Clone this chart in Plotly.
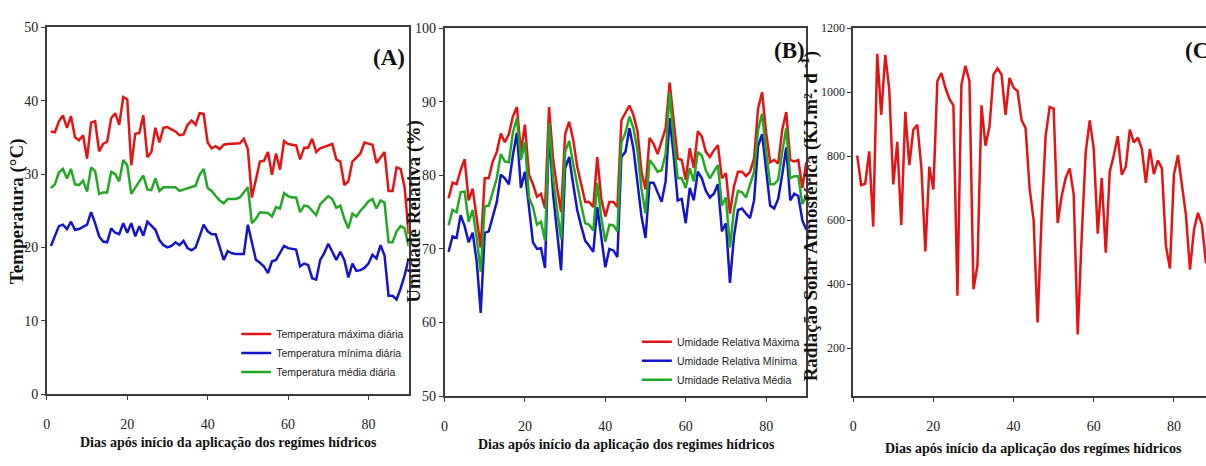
import plotly.graph_objects as go

# ---------------- data ----------------
days = list(range(1, 91))

temp_max = [35.8, 35.7, 37.2, 38.0, 36.3, 37.9, 35.0, 34.6, 35.3, 32.1,
            37.0, 37.2, 33.1, 34.1, 34.4, 37.6, 38.3, 36.7, 40.5, 40.2,
            31.2, 35.5, 35.6, 38.0, 32.3, 33.0, 36.3, 34.3, 36.3, 36.4,
            36.1, 35.8, 35.3, 35.4, 36.7, 37.3, 36.7, 38.3, 38.2, 34.3,
            33.5, 33.8, 33.4, 34.0, 34.1, 34.1, 34.1, 34.2, 34.8, 33.4,
            26.8, 29.5, 31.7, 31.8, 33.0, 29.9, 32.8, 30.6, 34.5, 34.1,
            34.0, 33.9, 32.0, 33.6, 33.6, 34.8, 33.0, 33.5, 33.7, 33.9,
            34.1, 32.0, 31.7, 28.5, 29.0, 31.7, 32.3, 32.8, 34.3, 34.2,
            34.0, 31.5, 32.2, 33.0, 27.7, 27.7, 30.9, 30.7, 28.2, 21.8]

temp_min = [20.2, 21.5, 22.9, 23.1, 22.5, 23.5, 22.4, 22.5, 22.8, 23.1,
            24.8, 23.3, 21.5, 20.8, 20.7, 22.6, 22.0, 21.8, 23.3, 22.0,
            23.3, 21.5, 22.9, 21.6, 23.5, 22.9, 22.4, 21.0, 20.3, 20.0,
            20.2, 20.7, 20.3, 20.9, 19.9, 19.6, 20.0, 21.5, 23.1, 22.2,
            21.8, 21.8, 20.0, 18.3, 19.5, 19.2, 19.1, 19.1, 19.1, 23.1,
            20.7, 18.3, 17.9, 17.4, 16.5, 18.1, 18.3, 19.2, 20.2, 19.9,
            19.8, 19.7, 17.4, 17.8, 17.6, 15.8, 15.6, 18.3, 19.2, 20.5,
            19.4, 18.3, 19.4, 18.3, 15.9, 17.8, 16.8, 16.9, 17.2, 17.8,
            19.0, 18.5, 20.3, 18.9, 13.4, 13.4, 12.9, 14.4, 16.2, 18.4]

temp_mean = [28.1, 28.6, 30.2, 30.7, 29.4, 30.7, 28.6, 28.5, 29.1, 27.6,
             30.9, 30.4, 27.3, 27.5, 27.5, 30.3, 30.0, 29.0, 31.9, 31.2,
             27.3, 28.2, 29.0, 29.8, 27.9, 27.8, 29.4, 27.7, 28.2, 28.2,
             28.2, 28.2, 27.7, 27.9, 28.1, 28.3, 28.4, 29.9, 30.7, 28.1,
             27.7, 27.0, 26.4, 26.0, 26.6, 26.6, 26.6, 26.8, 27.5, 28.2,
             23.3, 23.9, 24.8, 24.7, 24.7, 24.2, 25.5, 25.3, 27.4, 27.0,
             26.8, 26.8, 24.8, 25.7, 25.6, 25.0, 24.4, 25.9, 26.5, 27.0,
             26.6, 25.4, 25.7, 23.9, 22.6, 24.6, 24.2, 25.0, 25.6, 26.3,
             26.6, 25.3, 26.4, 26.1, 20.7, 20.7, 22.2, 22.9, 22.6, 20.2]

rh_max = [76.9, 79.0, 78.8, 80.7, 82.2, 76.6, 78.2, 74.2, 70.2, 79.6,
          79.6, 81.9, 83.2, 85.7, 84.5, 85.6, 88.0, 89.3, 83.2, 86.9,
          80.1, 78.8, 77.1, 77.5, 75.5, 89.3, 82.3, 78.3, 75.0, 85.6,
          87.3, 84.9, 81.2, 78.8, 76.4, 76.4, 75.7, 82.5, 76.8, 74.4,
          76.4, 76.4, 75.7, 87.5, 88.6, 89.5, 88.2, 86.0, 80.5, 78.1,
          85.1, 84.3, 82.9, 84.7, 86.4, 92.6, 87.5, 82.3, 82.1, 79.4,
          83.7, 81.0, 86.0, 85.3, 83.2, 82.5, 83.4, 84.1, 79.6, 80.3,
          74.8, 78.5, 80.5, 80.5, 79.9, 80.5, 82.3, 89.1, 91.3, 85.8,
          81.8, 82.1, 81.6, 86.2, 88.6, 82.1, 81.9, 82.1, 78.3, 81.8]

rh_min = [69.6, 71.7, 71.5, 74.6, 73.1, 70.9, 72.2, 68.3, 61.3, 72.2,
          72.4, 74.4, 76.4, 80.1, 79.6, 78.8, 82.7, 85.8, 78.3, 80.5,
          75.3, 70.9, 70.0, 70.1, 67.4, 86.4, 77.5, 72.2, 67.1, 81.0,
          82.5, 78.8, 75.3, 73.1, 71.1, 70.4, 69.6, 75.7, 71.7, 67.5,
          70.0, 69.8, 68.9, 82.5, 83.2, 86.4, 83.6, 79.2, 74.4, 71.5,
          79.0, 79.0, 77.7, 76.4, 79.2, 87.8, 82.7, 76.6, 76.8, 73.5,
          78.3, 76.6, 80.5, 79.6, 77.9, 77.0, 77.5, 78.8, 72.4, 73.5,
          65.4, 71.7, 75.3, 75.5, 74.8, 74.2, 76.6, 84.0, 85.6, 80.5,
          75.9, 75.5, 76.8, 80.1, 83.8, 76.6, 77.5, 77.2, 73.9, 72.6]

rh_mean = [73.2, 75.3, 75.0, 77.7, 77.8, 73.7, 75.3, 71.5, 66.9, 75.8,
           75.9, 77.9, 79.6, 82.9, 81.9, 81.8, 85.8, 87.8, 82.1, 84.5,
           77.0, 75.7, 73.3, 73.7, 71.1, 87.1, 79.6, 75.3, 71.3, 83.2,
           84.7, 81.6, 78.5, 75.9, 73.5, 73.3, 72.5, 79.0, 74.2, 71.0,
           73.3, 73.2, 72.4, 84.5, 85.8, 88.0, 86.4, 83.4, 78.1, 74.8,
           82.1, 81.4, 80.5, 80.7, 82.9, 91.3, 84.9, 79.6, 79.6, 78.3,
           81.0, 79.2, 83.2, 82.7, 80.7, 79.6, 80.5, 81.4, 75.9, 77.0,
           70.2, 75.3, 77.9, 77.7, 77.0, 78.8, 80.5, 86.2, 88.4, 83.2,
           78.8, 78.8, 79.4, 83.2, 86.4, 79.6, 79.9, 79.9, 76.1, 77.2]

rad_days = list(range(1, 89))
radiation = [802, 710, 714, 815, 580, 1120, 929, 1117, 1009, 712,
             845, 585, 939, 772, 883, 898, 767, 502, 767, 696,
             1035, 1060, 1014, 979, 959, 364, 1024, 1083, 1035, 384,
             459, 959, 833, 893, 1055, 1075, 1055, 929, 1045, 1014,
             1004, 913, 888, 700, 600, 280, 611, 863, 954, 949,
             591, 676, 732, 762, 681, 243, 550, 813, 912, 823,
             558, 732, 498, 752, 803, 863, 742, 767, 883, 843,
             858, 823, 717, 823, 744, 787, 762, 520, 449, 742,
             803, 712, 616, 445, 570, 623, 585, 465]

x_ticks = [0, 20, 40, 60, 80]
temp_ticks = [0, 10, 20, 30, 40, 50]
rh_ticks = [50, 60, 70, 80, 90, 100]
rad_ticks = [200, 400, 600, 800, 1000, 1200]

# ---------------- styling ----------------
W, H = 1206, 466
RED = "#e41414"
BLUE = "#1414c8"
GREEN = "#23a823"
SERIF = "Liberation Serif, Times New Roman, serif"
SANS = "Liberation Sans, Arial, sans-serif"


def fx(px):
    return px / W


def fy(py):
    return 1 - py / H


axis_common = dict(
    showline=True, linecolor="#3c3c3c", linewidth=1.5, mirror=True,
    ticks="outside", ticklen=4, tickcolor="#3c3c3c", tickwidth=1,
    showgrid=False, zeroline=False,
    tickfont=dict(family=SERIF, size=14, color="#222"),
)

fig = go.Figure()

# Panel A: temperature
fig.add_trace(go.Scatter(x=days, y=temp_max, mode="lines", xaxis="x", yaxis="y",
                         line=dict(color=RED, width=2.5),
                         name="Temperatura máxima diária", legend="legend"))
fig.add_trace(go.Scatter(x=days, y=temp_min, mode="lines", xaxis="x", yaxis="y",
                         line=dict(color=BLUE, width=2.5),
                         name="Temperatura mínima diária", legend="legend"))
fig.add_trace(go.Scatter(x=days, y=temp_mean, mode="lines", xaxis="x", yaxis="y",
                         line=dict(color=GREEN, width=2.5),
                         name="Temperatura média diária", legend="legend"))

# Panel B: relative humidity
fig.add_trace(go.Scatter(x=days, y=rh_max, mode="lines", xaxis="x2", yaxis="y2",
                         line=dict(color=RED, width=2.5),
                         name="Umidade Relativa Máxima", legend="legend2"))
fig.add_trace(go.Scatter(x=days, y=rh_min, mode="lines", xaxis="x2", yaxis="y2",
                         line=dict(color=BLUE, width=2.5),
                         name="Umidade Relativa Mínima", legend="legend2"))
fig.add_trace(go.Scatter(x=days, y=rh_mean, mode="lines", xaxis="x2", yaxis="y2",
                         line=dict(color=GREEN, width=2.5),
                         name="Umidade Relativa Média", legend="legend2"))

# Panel C: solar radiation
fig.add_trace(go.Scatter(x=rad_days, y=radiation, mode="lines", xaxis="x3", yaxis="y3",
                         line=dict(color=RED, width=2.5), showlegend=False,
                         name="Radiação Solar"))

xaxis_kw = dict(axis_common, tickvals=x_ticks, ticklabelstandoff=12)

legend_font = dict(family=SANS, size=10.5, color="#222")

fig.update_layout(
    width=W, height=H,
    margin=dict(l=0, r=0, t=0, b=0),
    paper_bgcolor="white", plot_bgcolor="white",
    xaxis=dict(xaxis_kw, domain=[fx(43), fx(406)], range=[0, 90], anchor="y"),
    yaxis=dict(axis_common, domain=[fy(400), fy(21)], range=[0, 50],
               tickvals=temp_ticks, anchor="x"),
    xaxis2=dict(xaxis_kw, domain=[fx(442), fx(805)], range=[0, 90], anchor="y2"),
    yaxis2=dict(axis_common, domain=[fy(402), fy(22)], range=[50, 100],
                tickvals=rh_ticks, anchor="x2"),
    xaxis3=dict(xaxis_kw, domain=[fx(852), 1.0], range=[0, 88], anchor="y3"),
    yaxis3=dict(axis_common, domain=[fy(402), fy(22)], range=[50, 1200],
                tickvals=rad_ticks, anchor="x3", mirror=False,
                tickfont=dict(family=SERIF, size=12, color="#222")),
    legend=dict(x=fx(233), y=fy(323), xanchor="left", yanchor="top",
                bgcolor="rgba(0,0,0,0)", font=legend_font, tracegroupgap=0),
    legend2=dict(x=fx(635), y=fy(331), xanchor="left", yanchor="top",
                 bgcolor="rgba(0,0,0,0)", font=legend_font, tracegroupgap=0),
    showlegend=True,
)

xtitle = "Dias após início da aplicação dos {} hídricos"
annotations = [
    # x-axis titles
    dict(text=xtitle.format("regímes"), x=fx(225), y=fy(450)),
    dict(text=xtitle.format("regimes"), x=fx(625), y=fy(452)),
    dict(text=xtitle.format("regímes"), x=fx(1033), y=fy(456)),
]
for a in annotations:
    a.update(xref="paper", yref="paper", xanchor="center", yanchor="middle",
             showarrow=False, font=dict(family=SERIF, size=14, color="#111"))
    a["text"] = "<b>" + a["text"] + "</b>"

ytitles = [
    ("Temperatura (°C)", 13, 211, 19),
    ("Umidade Relativa (%)", 412, 211, 19),
    ("Radiação Solar Atmosférica (KJ.m². d <sup>-1</sup>)", 808, 216, 19),
]
for text, x, y, size in ytitles:
    annotations.append(dict(text="<b>" + text + "</b>", x=fx(x), y=fy(y),
                            xref="paper", yref="paper", xanchor="center",
                            yanchor="middle", textangle=-90, showarrow=False,
                            font=dict(family=SERIF, size=size, color="#111")))

panel_tags = [("(A)", 386, 52), ("(B)", 788, 45), ("(C)", 1201, 45)]
for text, x, y in panel_tags:
    annotations.append(dict(text="<b>" + text + "</b>", x=fx(x), y=fy(y),
                            xref="paper", yref="paper", xanchor="center",
                            yanchor="middle", showarrow=False,
                            font=dict(family=SERIF, size=23, color="#111")))

fig.update_layout(annotations=annotations)

fig.write_html("out.html")
